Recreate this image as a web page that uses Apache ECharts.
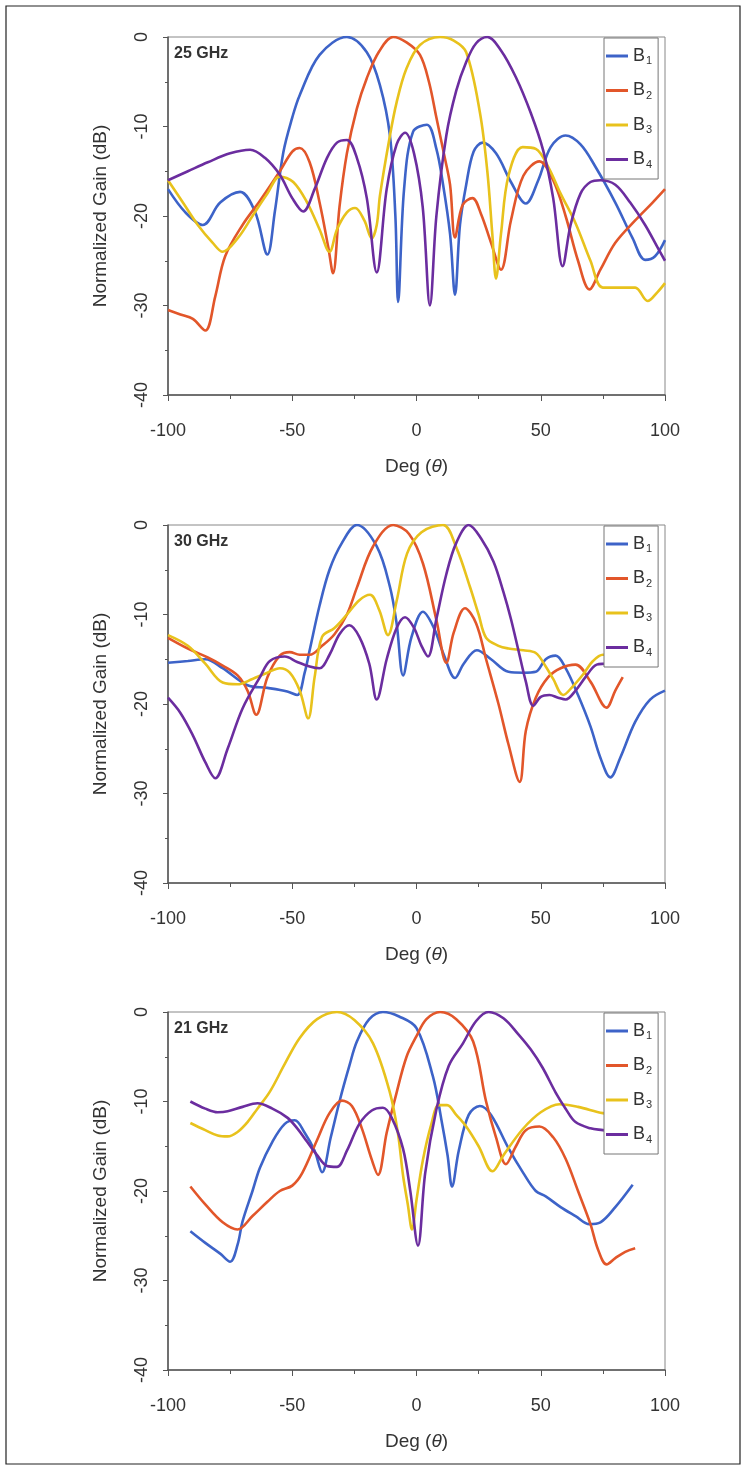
<!DOCTYPE html>
<html>
<head>
<meta charset="utf-8">
<script src="https://cdn.jsdelivr.net/npm/echarts@6/dist/echarts.min.js"></script>
<style>
html,body{margin:0;padding:0;background:#fff;}
#c{width:747px;height:1470px;}
</style>
</head>
<body>
<div id="c"></div>
<script>
// ---- Data (deg, normalized gain dB) ----
const seriesNames = ['B1','B2','B3','B4'];
const panelLabels = ['25 GHz','30 GHz','21 GHz'];
const xTicks = [-100,-50,0,50,100];
const yTicks = [0,-10,-20,-30,-40];

const p25_B1 = [[-100,-17],[-93,-19.6],[-86,-21],[-79,-18.5],[-71,-17.3],[-65,-19.5],[-60,-24.3],[-57,-19.5],[-53.6,-12.9],[-50,-9],[-47,-6.5],[-39,-2],[-28,0],[-20,-1.7],[-14.7,-5.4],[-10.7,-11],[-8.5,-20],[-7.4,-29.6],[-5,-17],[-1.4,-10.6],[4.2,-9.8],[8,-12.5],[10.7,-16.5],[13.5,-22],[15.5,-28.8],[17.5,-21],[20,-16.5],[23,-12.8],[26.6,-11.8],[32,-13],[38,-16.2],[44,-18.6],[49,-16],[54,-12.3],[60,-11],[66,-12],[72,-14.5],[80,-18.5],[87,-22.5],[92,-24.9],[96,-24.5],[100,-22.7]];
const p25_B2 = [[-100,-30.5],[-95,-31],[-90,-31.5],[-85,-32.8],[-81,-29],[-77,-24.5],[-70,-21],[-63,-18.3],[-55,-15],[-50,-12.8],[-47,-12.4],[-43,-14],[-39,-18.5],[-35.5,-23.5],[-33.6,-26.4],[-31,-19],[-28,-13],[-24,-8],[-20,-4.6],[-15,-1.6],[-9.4,0],[-4,-0.6],[1.4,-2],[5,-5],[8,-9],[11,-13],[13.5,-16.5],[15.5,-22.4],[18.5,-18.8],[22.5,-18],[26,-19.8],[30,-23],[34,-26],[38,-20.5],[43,-15.5],[49.5,-13.9],[55,-16],[60,-20],[65,-25],[69.6,-28.2],[74,-26],[80,-23],[88,-20.5],[95,-18.5],[100,-17]];
const p25_B3 = [[-100,-16],[-94,-18.5],[-88,-21],[-82,-23],[-78,-24],[-72,-22.5],[-66,-20],[-60,-17.5],[-55,-15.6],[-49.6,-16.2],[-44,-18.5],[-39,-21.5],[-35,-24],[-32,-21.5],[-28,-19.6],[-24.7,-19.1],[-21,-20.5],[-18,-22.5],[-16,-21],[-14.7,-17.7],[-11,-11.5],[-8,-7.3],[-4,-3.5],[1.4,-0.9],[9.5,0],[15,-0.4],[20,-1.7],[25.5,-8.4],[28.5,-15],[30.5,-22],[32,-27],[34,-22],[37,-15.5],[42.7,-12.3],[48,-12.5],[53,-14.5],[58,-17.5],[64,-20.8],[70,-25],[75,-28],[82,-28],[88,-28],[93,-29.5],[97,-28.5],[100,-27.5]];
const p25_B4 = [[-100,-16],[-92,-15],[-84,-14],[-75,-13],[-67,-12.6],[-61,-13.5],[-55,-15.4],[-50,-18],[-45.6,-19.5],[-41,-17],[-36,-13.5],[-32,-11.8],[-28,-11.5],[-24,-13.5],[-20,-18],[-16,-26.3],[-12,-17],[-8,-12],[-4.6,-10.7],[-1,-13],[2.5,-19],[5.4,-30],[8,-20],[12,-11],[16,-6],[20,-2.8],[24,-0.7],[28.5,0],[34,-1.5],[40,-4.5],[46,-8.5],[51,-12.7],[55,-18],[58.8,-25.6],[62,-21],[66,-17.5],[70,-16.2],[74,-16],[80,-16.5],[86,-18.5],[92,-21],[97,-23.5],[100,-25]];

const p30_B1 = [[-100,-15.4],[-92,-15.2],[-85,-15],[-78,-16],[-68,-17.9],[-60,-18.2],[-52,-18.6],[-48,-19],[-45,-16.5],[-43,-14],[-39,-9],[-35,-5],[-30,-2],[-24,0],[-16,-2.4],[-10.7,-6.9],[-8,-11],[-5.4,-16.8],[-2,-12.5],[2.6,-9.7],[7,-11.5],[11,-14.5],[15.5,-17.1],[19,-15.5],[24.3,-14],[30,-15],[37,-16.4],[43,-16.5],[48,-16.4],[52,-15],[56,-14.6],[60,-16],[65,-19],[70,-22.5],[74,-26],[78,-28.2],[82,-26],[88,-22],[94,-19.5],[100,-18.5]];
const p30_B2 = [[-100,-12.6],[-92,-13.8],[-84,-14.8],[-78,-15.7],[-72,-16.8],[-68,-18.5],[-64.5,-21.2],[-60,-17],[-55,-14.6],[-51,-14.2],[-47,-14.5],[-43,-14.5],[-38,-13.5],[-33,-12.2],[-28,-10],[-24,-7],[-17.5,-2.4],[-9.4,0],[-3,-1],[2.6,-4.3],[8,-10.6],[12,-15.4],[15,-12],[19.5,-9.3],[24,-11],[28,-15],[33,-20],[37,-24.5],[41.5,-28.7],[44,-23],[48,-19.3],[53,-17],[58,-16],[64,-15.6],[70,-17.5],[76.5,-20.4],[80,-18.5],[83,-17]];
const p30_B3 = [[-100,-12.3],[-92,-13.5],[-85,-15.5],[-78,-17.6],[-72,-17.8],[-66,-17.2],[-60,-16.5],[-55,-16],[-51,-16.5],[-47,-18.5],[-43.6,-21.6],[-41,-17],[-38,-12.5],[-33,-11.5],[-28,-10],[-23,-8.4],[-18.7,-7.8],[-15,-9.5],[-11.5,-12.3],[-8,-8.5],[-3.8,-3.2],[2,-0.8],[10.7,0],[16,-2.5],[21.5,-6.9],[25,-10],[28,-12.6],[33,-13.5],[37,-13.8],[43,-14],[48,-14.3],[52,-15.8],[55,-17.2],[59,-19],[63,-18],[67,-16.7],[71,-15.2],[75,-14.5],[78,-14.5]];
const p30_B4 = [[-100,-19.3],[-95,-21],[-90,-23.5],[-85,-26.5],[-81,-28.3],[-76,-25],[-70,-20.5],[-63,-17],[-59,-15.2],[-53,-14.7],[-48,-15.3],[-43,-15.8],[-39,-16],[-35,-14.5],[-31,-12.2],[-27,-11.2],[-23,-12.5],[-19,-15.5],[-16,-19.5],[-12,-15],[-8,-11.5],[-4.6,-10.3],[-1,-11.5],[2,-13.5],[4.6,-14.7],[8,-10.5],[12,-5.5],[16,-2],[21,0],[26,-1.5],[31,-4.1],[35,-7.5],[38,-10.5],[41,-14],[44,-17.5],[47,-20.2],[50,-19.2],[53.5,-19],[57,-19.3],[60,-19.5],[64,-18.5],[68,-17],[72.5,-15.6],[76,-15.5],[80,-15.4]];

const p21_B1 = [[-91,-24.5],[-85,-25.8],[-79,-27],[-75,-27.9],[-72,-26],[-70,-23.4],[-66,-20],[-63,-17.4],[-58,-14.5],[-53,-12.5],[-49,-12.1],[-45,-13.5],[-41,-15.5],[-38,-17.9],[-34.5,-14],[-30.8,-9.8],[-27,-6],[-24,-3.3],[-19,-0.8],[-13.5,0],[-7,-0.5],[0,-1.8],[6.6,-7.2],[10,-12],[12.5,-16],[14.3,-19.5],[17,-15.5],[21,-11.5],[25.5,-10.5],[30,-11.5],[37,-15.2],[43,-18],[48,-20],[52,-20.6],[58,-21.8],[64,-22.8],[69.6,-23.7],[74,-23.5],[80,-21.8],[87,-19.3]];
const p21_B2 = [[-91,-19.5],[-85,-21.5],[-78,-23.5],[-72,-24.3],[-66,-22.8],[-60,-21.2],[-55,-20],[-50,-19.4],[-46,-18],[-40,-14.3],[-35,-11.3],[-30,-9.9],[-26,-10.5],[-22,-13],[-18,-16.5],[-15.5,-18.2],[-12,-13.5],[-8,-9],[-4,-5],[0,-2.7],[4,-0.8],[9.5,0],[16,-0.8],[22.8,-3.3],[28,-10],[32,-14],[36,-17],[40,-15],[44,-13.2],[49.5,-12.8],[55,-14],[60,-16.4],[65,-20],[70,-23.7],[73,-26.5],[76.5,-28.2],[80,-27.5],[84,-26.8],[88,-26.4]];
const p21_B3 = [[-91,-12.4],[-85,-13.2],[-80,-13.8],[-76,-13.9],[-72,-13.4],[-68,-12.3],[-64,-10.8],[-59,-8.9],[-53,-5.8],[-47,-2.9],[-40,-0.8],[-32,0],[-25,-0.9],[-17.5,-3.5],[-10.7,-9],[-7.5,-13.5],[-5.4,-18.3],[-3.5,-21.5],[-1.8,-24.3],[0,-21],[2.6,-16.5],[6,-12.5],[9,-10.4],[12.3,-10.4],[16,-11.5],[20,-12.8],[25,-15],[30.6,-17.8],[35,-16],[42.7,-13.1],[50,-11.2],[57.5,-10.3],[65,-10.6],[75,-11.3],[82,-11.5],[88,-11.8]];
const p21_B4 = [[-91,-10],[-85,-10.8],[-80,-11.2],[-76,-11.1],[-70,-10.6],[-64,-10.2],[-58,-10.8],[-52,-11.8],[-48,-13],[-44,-14.5],[-40,-16],[-36,-17.2],[-32,-17.3],[-28,-15.5],[-23,-12.5],[-18,-11],[-13.5,-10.7],[-10,-11.8],[-5.4,-15.3],[-2.5,-20],[0.6,-26.1],[3.5,-18],[8,-10.9],[13,-6],[18.7,-3.5],[24,-1],[29,0],[35,-0.7],[41,-2.5],[46,-4.2],[50.7,-6.2],[56,-9],[60,-10.8],[64,-12.3],[70,-13],[75,-13.2],[80,-13.4],[87,-13.5]];

const panelData = [
  [p25_B1, p25_B2, p25_B3, p25_B4],
  [p30_B1, p30_B2, p30_B3, p30_B4],
  [p21_B1, p21_B2, p21_B3, p21_B4]
];
const colors = ['#3d63c8','#e2562a','#e8c21c','#6b2d9f'];

// ---- Layout ----
const gridTops = [37, 525, 1012];
const gridH = 358;
const font = 'Liberation Sans, Arial, sans-serif';
const axisColor = '#555';
const textColor = '#333';

const grids = [], xAxes = [], yAxes = [], series = [], legends = [], graphics = [];
gridTops.forEach((top, i) => {
  grids.push({left:168, top:top, width:497, height:gridH, show:true, borderColor:'#888', borderWidth:1, backgroundColor:'transparent'});
  xAxes.push({
    type:'value', gridIndex:i, min:-100, max:100, interval:50,
    name:'{a|Deg (}{i|θ}{a|)}', nameLocation:'middle', nameGap:62,
    nameTextStyle:{rich:{a:{fontSize:19,color:textColor,fontFamily:font},i:{fontSize:19,color:textColor,fontStyle:'italic',fontFamily:font}}},
    axisLine:{onZero:false, lineStyle:{color:axisColor,width:1.5}},
    axisTick:{inside:false,length:6,lineStyle:{color:axisColor}},
    minorTick:{show:true,splitNumber:2,length:4,lineStyle:{color:axisColor}},
    axisLabel:{fontSize:18,color:textColor,fontFamily:font,margin:27},
    splitLine:{show:false}
  });
  yAxes.push({
    type:'value', gridIndex:i, min:-40, max:0, interval:10,
    name:'Normalized Gain (dB)', nameLocation:'middle', nameGap:58, nameRotate:90,
    nameTextStyle:{fontSize:19,color:textColor,fontFamily:font},
    axisLine:{show:true, onZero:false, lineStyle:{color:axisColor,width:1.5}},
    axisTick:{show:true,length:5,lineStyle:{color:axisColor}},
    minorTick:{show:true,splitNumber:2,length:3,lineStyle:{color:axisColor}},
    axisLabel:{fontSize:18,color:textColor,fontFamily:font,rotate:90,margin:17},
    splitLine:{show:false}
  });
  panelData[i].forEach((d, k) => {
    series.push({
      type:'line', name:seriesNames[k], xAxisIndex:i, yAxisIndex:i,
      data:d, smooth:0.35, showSymbol:false, symbol:'none',
      lineStyle:{color:colors[k], width:2.6}, itemStyle:{color:colors[k]}
    });
  });
  legends.push({
    orient:'vertical', left:604, top:top+1,
    data:seriesNames, icon:'rect', itemWidth:22, itemHeight:3, itemGap:15,
    backgroundColor:'#fff', borderColor:'#777', borderWidth:1,
    padding:[9,6,9,2], selectedMode:false,
    formatter: n => '{b|B}{s|' + n.slice(1) + '}',
    textStyle:{color:textColor, rich:{b:{fontSize:18,fontFamily:font,color:textColor},s:{fontSize:11,fontFamily:font,color:textColor,padding:[10,0,0,1]}}}
  });
  graphics.push({type:'text', left:174, top:top+9, style:{text:panelLabels[i], fontSize:16, fontWeight:'bold', fill:'#333', fontFamily:font}});
});
graphics.push({type:'rect', shape:{x:6, y:6, width:734, height:1458}, style:{fill:'none', stroke:'#222', lineWidth:1.2}, z:100});

const chart = echarts.init(document.getElementById('c'), null, {renderer:'canvas'});
chart.setOption({
  animation:false,
  backgroundColor:'#fff',
  grid:grids, xAxis:xAxes, yAxis:yAxes, series:series, legend:legends, graphic:graphics
});
</script>
</body>
</html>
